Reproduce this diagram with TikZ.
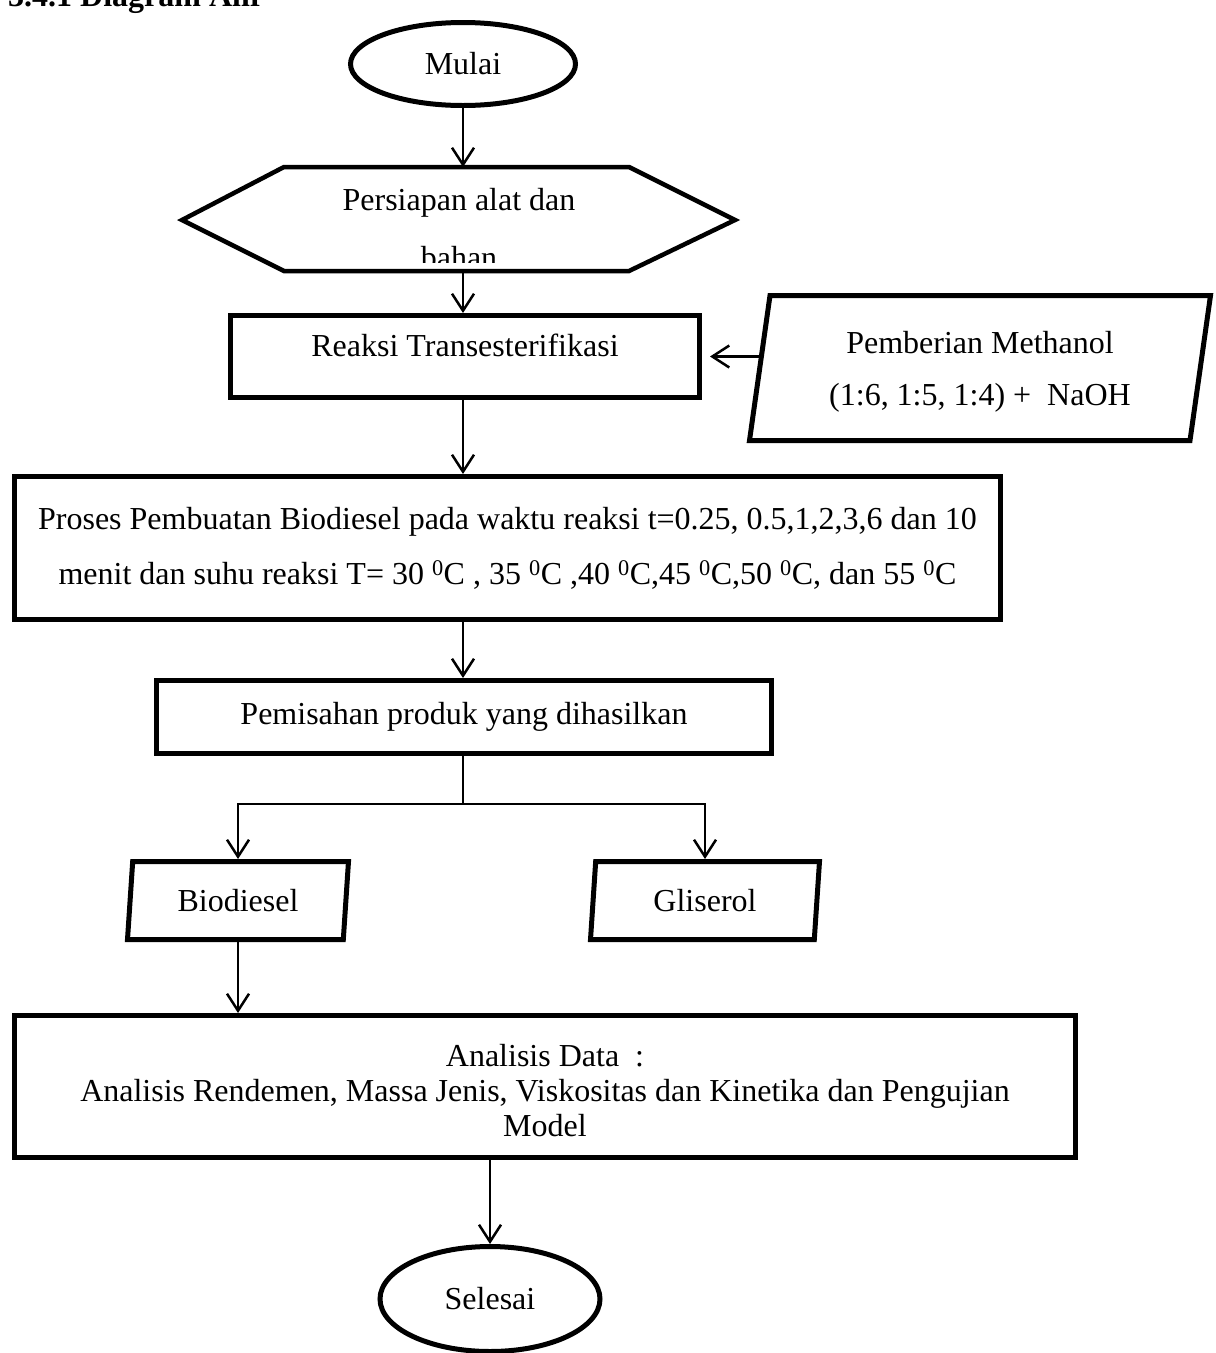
\documentclass[tikz,border=0pt]{standalone}
\usepackage{fontspec}
\setmainfont{Liberation Serif}
\usepackage{tikz}
\usetikzlibrary{arrows.meta,positioning,shapes.geometric,calc}
\newcommand{\suhu}{\textsuperscript{0}C}

\begin{document}
\begin{tikzpicture}[
    x=1pt,y=-1pt,
    font=\fontsize{32}{55}\selectfont,
    proc/.style = {rectangle,draw,line width=5pt,align=center,inner sep=0pt},
    term/.style = {ellipse,draw,line width=5pt,inner sep=0pt},
    io/.style   = {trapezium,trapezium left angle=77,trapezium right angle=103,
                   trapezium stretches body,draw,line width=5pt,align=center,inner sep=0pt},
    hexa/.style = {draw,line width=4.5pt,line join=miter},
    txt/.style  = {align=center,inner sep=0pt},
    fl/.style   = {-{Straight Barb[length=17pt,width=22pt]},line width=2.5pt},
    ln/.style   = {line width=2.2pt},
  ]
  \useasboundingbox (0,0) rectangle (1216,1353);

  \node[txt,font=\fontsize{32}{38}\bfseries,anchor=base west] (judul) at (8,6) {3.4.1 Diagram Alir};

  \node[term,minimum width=225pt,minimum height=83pt] (mulai) at (463,64) {Mulai};

  % heksagon persiapan
  \draw[hexa] (284,167) -- (629,167) -- (735,220) -- (629,271) -- (284,271) -- (182,220) -- cycle;
  \coordinate (prepN) at (463,167);
  \coordinate (prepS) at (463,271);
  \begin{scope}
    \clip (180,160) rectangle (740,262);
    \node[txt,font=\fontsize{32}{58}\selectfont] (prep) at (459,229) {Persiapan alat dan\\bahan};
  \end{scope}

  \node[proc,minimum width=469pt,minimum height=82pt,text depth=22pt] (reaksi) at (465,356.5) {Reaksi Transesterifikasi};
  \node[io,minimum width=461pt,minimum height=145pt,font=\fontsize{32}{52}\selectfont] (meth) at (980,368)
       {\rule{0pt}{30pt}Pemberian Methanol\\(1:6, 1:5, 1:4) +~ NaOH};

  \node[proc,minimum width=986pt,minimum height=143pt] (proses) at (507.5,548)
       {Proses Pembuatan Biodiesel pada waktu reaksi t=0.25, 0.5,1,2,3,6 dan 10\\
        menit dan suhu reaksi T= 30 \suhu{} , 35 \suhu{} ,40 \suhu{},45 \suhu{},50 \suhu{}, dan 55 \suhu};

  \node[proc,minimum width=615pt,minimum height=73pt] (pemisah) at (464,717) {Pemisahan produk yang dihasilkan};

  \node[io,minimum width=221pt,minimum height=78pt] (bio) at (238,900.5) {Biodiesel};
  \node[io,minimum width=229pt,minimum height=78pt] (gli) at (705,900.5) {Gliserol};

  \node[proc,minimum width=1061pt,minimum height=142pt,font=\fontsize{32}{35}\selectfont] (analisis) at (545,1086.5)
       {\rule{0pt}{30pt}Analisis Data~ :\\Analisis Rendemen, Massa Jenis, Viskositas dan Kinetika dan Pengujian\\Model};

  \node[term,minimum width=220pt,minimum height=105pt] (selesai) at (490,1299) {Selesai};

  \draw[fl] (mulai) -- (prepN);
  \draw[fl] (prepS) -- (prepS |- reaksi.north);
  \draw[fl,shorten >=8pt] ([xshift=6pt]meth.west |- reaksi.east) -- (reaksi.east);
  \draw[fl] (prepS |- reaksi.south) -- (prepS |- proses.north);
  \draw[fl] (prepS |- proses.south) -- (prepS |- pemisah.north);

  % percabangan produk
  \coordinate (cabang) at (463,804);
  \draw[ln] (pemisah.south -| cabang) -- (cabang);
  \draw[fl] (cabang) -| (bio.north);
  \draw[fl] (cabang) -| (gli.north);

  \draw[fl] (bio.south) -- (bio.south |- analisis.north);
  \draw[fl] (selesai.north |- analisis.south) -- (selesai.north);

\end{tikzpicture}
\end{document}
